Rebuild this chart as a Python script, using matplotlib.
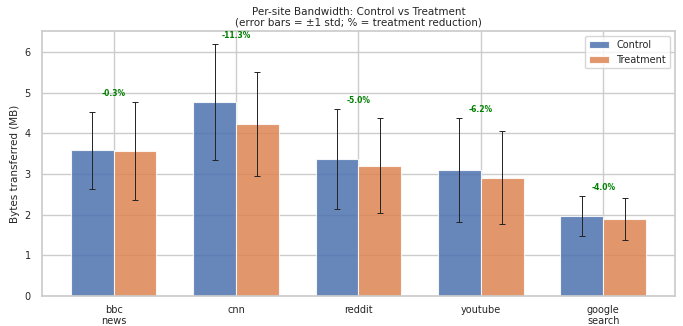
import matplotlib
matplotlib.use("Agg")
import matplotlib.pyplot as plt
import seaborn as sns
import numpy as np

sns.set_theme(style="whitegrid")
plt.rcParams['font.family'] = ['DejaVu Sans']

sites = ["bbc\nnews", "cnn", "reddit", "youtube", "google\nsearch"]
control_mean = [3.58, 4.78, 3.38, 3.10, 1.97]
control_std = [0.94, 1.43, 1.23, 1.27, 0.50]
treatment_mean = [3.57, 4.24, 3.21, 2.91, 1.89]
treatment_std = [1.21, 1.28, 1.16, 1.15, 0.51]
reduction_labels = ["-0.3%", "-11.3%", "-5.0%", "-6.2%", "-4.0%"]

pal = sns.color_palette("deep")
fig, ax = plt.subplots(figsize=(6.83, 3.26), dpi=100)
x = np.arange(len(sites))
w = 0.35
ax.bar(x - w/2, control_mean, w, yerr=control_std, capsize=2.5, color=pal[0], alpha=0.85,
       edgecolor="white", linewidth=0.8, label="Control",
       error_kw=dict(elinewidth=0.7, ecolor="#222222", capthick=0.7))
ax.bar(x + w/2, treatment_mean, w, yerr=treatment_std, capsize=2.5, color=pal[1], alpha=0.85,
       edgecolor="white", linewidth=0.8, label="Treatment",
       error_kw=dict(elinewidth=0.7, ecolor="#222222", capthick=0.7))

for i in range(len(sites)):
    top = max(control_mean[i] + control_std[i], treatment_mean[i] + treatment_std[i])
    ax.text(x[i], top + 0.1, reduction_labels[i], ha="center", va="bottom",
            fontsize=5.5, fontweight="bold", color="green")

ax.set_xticks(x)
ax.set_xticklabels(sites, fontsize=7, linespacing=1.1)
ax.tick_params(axis="x", labelsize=7, pad=0.5)
ax.tick_params(axis="y", labelsize=7, pad=2)
ax.set_ylabel("Bytes transferred (MB)", fontsize=7.5, labelpad=3)
ax.set_title("Per-site Bandwidth: Control vs Treatment\n(error bars = ±1 std; % = treatment reduction)",
             fontsize=7.5, pad=4, linespacing=1.1)
ax.legend(fontsize=7, loc="upper right")
fig.subplots_adjust(left=0.0615, right=0.988, top=0.905, bottom=0.092)
fig.savefig("out.png", dpi=100)
